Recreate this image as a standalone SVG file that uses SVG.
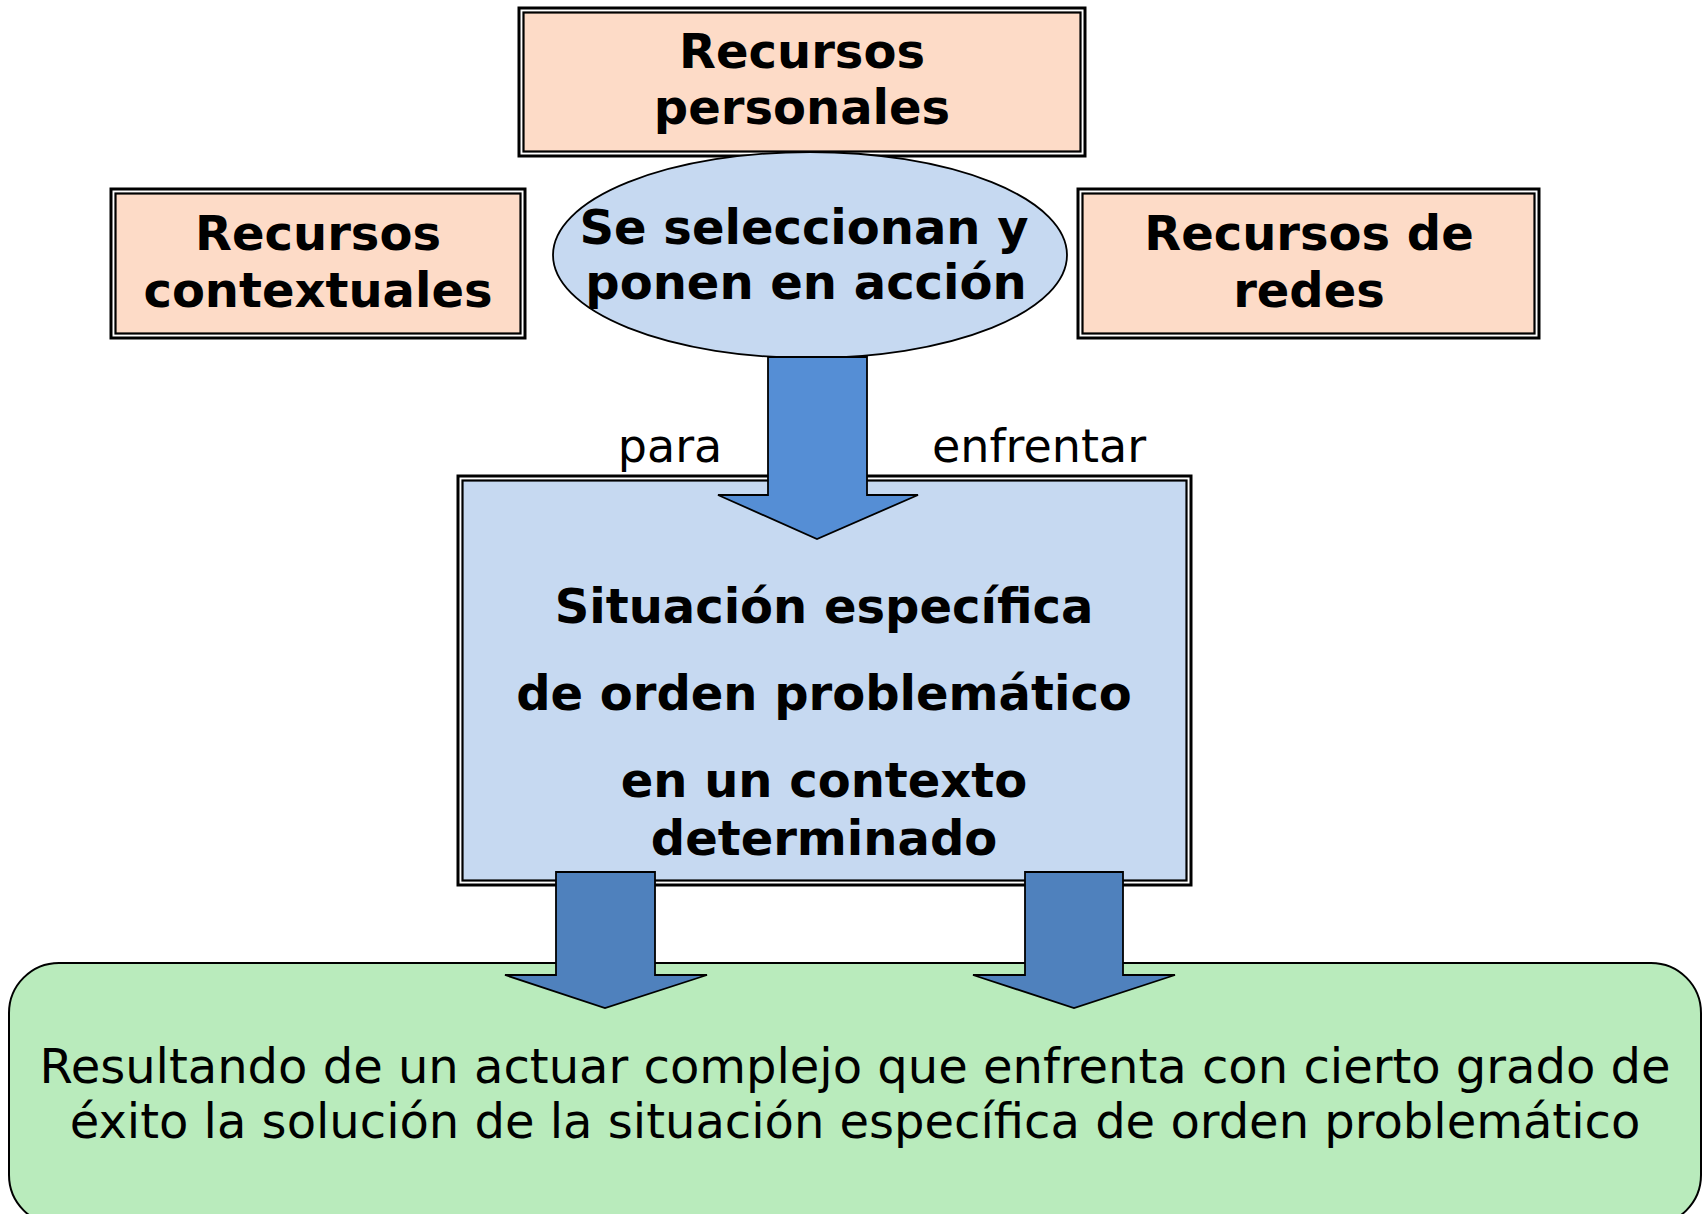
<svg xmlns="http://www.w3.org/2000/svg" width="1703" height="1214" viewBox="0 0 1703 1214">
<style>
.b{font-family:"DejaVu Sans","Verdana",sans-serif;font-weight:bold;font-size:48px;fill:#000;text-anchor:middle}
.r{font-family:"DejaVu Sans","Verdana",sans-serif;font-size:48px;fill:#000;text-anchor:middle}
.o{fill:#fff;stroke:#000;stroke-width:3}
.ip{fill:#FDDBC7;stroke:#000;stroke-width:2.2}
.ib{fill:#C6D9F1;stroke:#000;stroke-width:2.2}
.arr{stroke:#000;stroke-width:1.8;stroke-linejoin:miter}
</style>
<rect width="1703" height="1214" fill="#fff"/>
<g id="recursos-personales">
<rect x="519" y="8" width="566" height="148" class="o"/>
<rect x="523.5" y="12.5" width="557" height="139" class="ip"/>
<text class="b" x="802" y="68">Recursos</text>
<text class="b" x="802" y="124">personales</text>
</g>
<g id="recursos-contextuales">
<rect x="111" y="189" width="414" height="149" class="o"/>
<rect x="115.5" y="193.5" width="405" height="140" class="ip"/>
<text class="b" x="318" y="250">Recursos</text>
<text class="b" x="318" y="307">contextuales</text>
</g>
<g id="recursos-redes">
<rect x="1078" y="189" width="461" height="149" class="o"/>
<rect x="1082.5" y="193.5" width="452" height="140" class="ip"/>
<text class="b" x="1309" y="250">Recursos de</text>
<text class="b" x="1309" y="307">redes</text>
</g>
<g id="seleccionan">
<ellipse cx="810" cy="255" rx="257" ry="103" fill="#C6D9F1" stroke="#000" stroke-width="1.8"/>
<text class="b" x="804" y="244">Se seleccionan y</text>
<text class="b" x="806" y="299">ponen en acción</text>
</g>
<g id="situacion">
<rect x="458" y="476" width="733" height="409" class="o"/>
<rect x="462.5" y="480.5" width="724" height="400" class="ib"/>
<text class="b" x="824" y="623">Situación específica</text>
<text class="b" x="824" y="710">de orden problemático</text>
<text class="b" x="824" y="797">en un contexto</text>
<text class="b" x="824" y="855">determinado</text>
</g>
<g id="resultado">
<rect x="9" y="963" width="1692" height="262" rx="50" ry="50" fill="#B9EBBC" stroke="#000" stroke-width="2"/>
<text class="r" x="855" y="1083">Resultando de un actuar complejo que enfrenta con cierto grado de</text>
<text class="r" x="855" y="1138">éxito la solución de la situación específica de orden problemático</text>
</g>
<g id="connectors">
<polygon class="arr" fill="#558ED5" points="768,357 867,357 867,495 918,495 817,539 718,495 768,495"/>
<polygon class="arr" fill="#4F81BD" points="556,872 655,872 655,975 707,975 605,1008 505,975 556,975"/>
<polygon class="arr" fill="#4F81BD" points="1025,872 1123,872 1123,975 1175,975 1074,1008 973,975 1025,975"/>
<text class="r" x="670" y="462" style="font-size:46px">para</text>
<text class="r" x="1039" y="462" style="font-size:46px">enfrentar</text>
</g>
</svg>
